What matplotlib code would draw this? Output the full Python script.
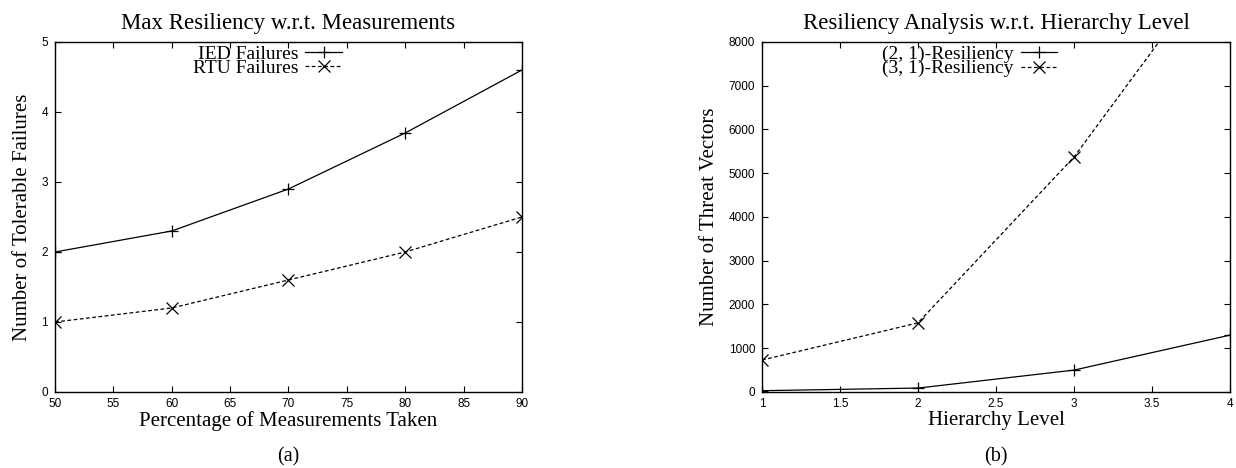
import matplotlib
matplotlib.use("Agg")
import matplotlib.pyplot as plt
from matplotlib.ticker import FormatStrFormatter

# panel (a)
pct_taken = [50, 60, 70, 80, 90]
ied_failures = [2.0, 2.3, 2.9, 3.7, 4.6]
rtu_failures = [1.0, 1.2, 1.6, 2.0, 2.5]

# panel (b)
hier_level = [1, 2, 3, 4]
res_21 = [30, 90, 500, 1300]
res_31 = [730, 1580, 5370, 10200]

serif = "Liberation Serif"
sans = "Liberation Sans"

fig = plt.figure(figsize=(12.36, 4.68), dpi=100)
ax1 = fig.add_axes([0.0445, 0.1624, 0.3778, 0.7479])
ax2 = fig.add_axes([0.6165, 0.1624, 0.3786, 0.7479])


def style_axes(ax):
    ax.tick_params(direction="in", top=True, right=True, length=4, width=0.8,
                   labelsize=8.5)
    ax.tick_params(axis="y", pad=5)
    ax.tick_params(axis="x", pad=4)
    for lbl in ax.get_xticklabels() + ax.get_yticklabels():
        lbl.set_family(sans)
    for s in ax.spines.values():
        s.set_linewidth(1.0)


dash = (0, (3, 2))
leg_kw = dict(frameon=False, markerfirst=False, handlelength=1.9,
              handletextpad=0.35, labelspacing=-0.18, borderaxespad=0.0,
              prop={"family": serif, "size": 14})

ax1.plot(pct_taken, ied_failures, color="black", lw=0.9, marker="+", ms=9,
         mew=0.9, label="IED Failures")
ax1.plot(pct_taken, rtu_failures, color="black", lw=0.9, ls=dash, marker="x",
         ms=8, mew=0.9, label="RTU Failures")
ax1.set_xlim(50, 90)
ax1.set_ylim(0, 5)
ax1.set_xticks(range(50, 91, 5))
ax1.set_yticks(range(0, 6))
style_axes(ax1)
ax1.set_title("Max Resiliency w.r.t. Measurements", family=serif, fontsize=16.5, pad=9)
ax1.set_xlabel("Percentage of Measurements Taken", family=serif, fontsize=15, labelpad=1)
ax1.set_ylabel("Number of Tolerable Failures", family=serif, fontsize=15, labelpad=7)
ax1.legend(loc="upper right", bbox_to_anchor=(0.632, 1.012), **leg_kw)

ax2.plot(hier_level, res_21, color="black", lw=0.9, marker="+", ms=9,
         mew=0.9, label="(2, 1)-Resiliency")
ax2.plot(hier_level, res_31, color="black", lw=0.9, ls=dash, marker="x",
         ms=8, mew=0.9, label="(3, 1)-Resiliency")
ax2.set_xlim(1, 4)
ax2.set_ylim(0, 8000)
ax2.set_xticks([1, 1.5, 2, 2.5, 3, 3.5, 4])
ax2.set_yticks(range(0, 8001, 1000))
ax2.xaxis.set_major_formatter(FormatStrFormatter("%g"))
style_axes(ax2)
ax2.set_title("Resiliency Analysis w.r.t. Hierarchy Level", family=serif, fontsize=16.5, pad=9)
ax2.set_xlabel("Hierarchy Level", family=serif, fontsize=15, labelpad=1)
ax2.set_ylabel("Number of Threat Vectors", family=serif, fontsize=15, labelpad=7)
ax2.legend(loc="upper right", bbox_to_anchor=(0.648, 1.012), **leg_kw)

fig.text(288 / 1236, 1 - 457 / 468, "(a)", family=serif, fontsize=14.5,
         ha="center", va="center")
fig.text(996 / 1236, 1 - 457 / 468, "(b)", family=serif, fontsize=14.5,
         ha="center", va="center")

fig.savefig("out.png", dpi=100)
